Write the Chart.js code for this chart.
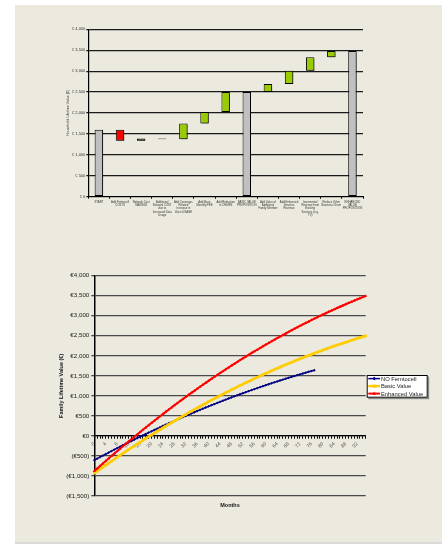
<!DOCTYPE html>
<html>
<head>
<meta charset="utf-8">
<script src="https://cdn.jsdelivr.net/npm/chart.js@4.4.1/dist/chart.umd.min.js"></script>
<style>
  html, body { margin: 0; padding: 0; background: #fff; }
  #page { position: relative; width: 442px; height: 544px; overflow: hidden; }
  #panel { position: absolute; left: 15px; top: 5px; width: 427px; height: 537px; background: #eceadf; }
  #strip { position: absolute; left: 15px; top: 542px; width: 427px; height: 2px; background: #dadada; }
  #waterfall { position: absolute; left: 0; top: 0; }
  #lifetime { position: absolute; left: 0; top: 240px; }
</style>
</head>
<body>
<div id="page">
  <div id="panel"></div>
  <div id="strip"></div>
  <canvas id="waterfall" width="442" height="240"></canvas>
  <canvas id="lifetime" width="442" height="304"></canvas>
</div>
<script>
const FONT = "'Liberation Sans', Arial, sans-serif";

// ---- waterfall: household value build-up ----
const stepLabels = [
  ["START"],
  ["Add Femtocell", "COSTS"],
  ["Network Cost", "SAVINGS"],
  ["Additional", "Network COST", "due to", "Increased Data", "Usage"],
  ["Add Coverage-", "Related", "Increase in", "Voice USAGE"],
  ["Add Basic", "Monthly FEE"],
  ["Add Reduction", "in CHURN"],
  ["BASIC VALUE", "PROPOSITION"],
  ["Add Value of", "Additional", "Family Member"],
  ["Add Enhanced", "Services", "Revenue"],
  ["Incremental", "Revenue from", "Existing", "Services (e.g.", "TV)"],
  ["Reduce Other", "Business Churn"],
  ["ENHANCED", "VALUE", "PROPOSITION"]
];
// null = subtotal bar drawn from zero
const stepValues = [1600, -265, 55, -20, 380, 275, 475, null, 190, 320, 320, 150, null];
const valueTicks = [0, 500, 1000, 1500, 2000, 2500, 3000, 3500, 4000];

// ---- lifetime value by month ----
const months = Array.from({ length: 96 }, (_, i) => String(i));
const noFemtocell = [
  -605, -567, -529, -491, -454, -416, -379, -342, -306, -270,
  -233, -198, -162, -127, -92, -57, -22, 12, 47, 81,
  114, 148, 181, 214, 247, 279, 311, 343, 375, 407,
  438, 469, 500, 531, 561, 591, 621, 650, 680, 709,
  738, 767, 795, 823, 851, 879, 906, 934, 961, 987,
  1014, 1040, 1066, 1092, 1118, 1143, 1168, 1193, 1218, 1242,
  1266, 1290, 1314, 1337, 1360, 1383, 1406, 1428, 1451, 1473,
  1494, 1516, 1537, 1558, 1579, 1600, 1620, 1640
];
const basicValue = [
  -930, -879, -829, -779, -729, -680, -631, -582, -534, -485,
  -438, -390, -343, -296, -249, -203, -157, -111, -66, -21,
  24, 68, 113, 156, 200, 243, 286, 329, 371, 413,
  455, 496, 537, 578, 618, 658, 698, 737, 777, 815,
  854, 892, 930, 968, 1005, 1042, 1079, 1115, 1151, 1187,
  1223, 1258, 1292, 1327, 1361, 1395, 1429, 1462, 1495, 1528,
  1560, 1592, 1624, 1655, 1686, 1717, 1748, 1778, 1808, 1837,
  1867, 1895, 1924, 1952, 1980, 2008, 2036, 2063, 2089, 2116,
  2142, 2168, 2193, 2219, 2244, 2268, 2292, 2316, 2340, 2363,
  2387, 2409, 2432, 2454, 2476, 2497
];
const enhancedValue = [
  -880, -816, -753, -690, -627, -565, -503, -442, -381, -320,
  -260, -200, -140, -81, -22, 36, 94, 152, 209, 266,
  323, 379, 435, 490, 545, 600, 654, 708, 762, 815,
  868, 920, 972, 1024, 1075, 1126, 1177, 1227, 1277, 1326,
  1375, 1424, 1472, 1520, 1568, 1615, 1662, 1708, 1754, 1800,
  1845, 1890, 1934, 1979, 2022, 2066, 2109, 2151, 2194, 2236,
  2277, 2318, 2359, 2400, 2440, 2479, 2518, 2557, 2596, 2634,
  2672, 2709, 2746, 2783, 2819, 2855, 2891, 2926, 2960, 2995,
  3029, 3062, 3096, 3129, 3161, 3193, 3225, 3256, 3287, 3318,
  3348, 3378, 3408, 3437, 3465, 3494
];

Chart.defaults.font.family = FONT;
Chart.defaults.animation = false;
Chart.defaults.plugins.tooltip.enabled = false;
Chart.defaults.plugins.legend.display = false;

// build floating [from, to] bars for the waterfall
let running = 0;
const floating = stepValues.map(v => {
  if (v === null) return [0, running];
  const from = running;
  running += v;
  return [from, running];
});
const barColors = stepValues.map((v, i) =>
  (v === null || i === 0) ? "#c0c0c0" : (v < 0 ? "#ff0000" : "#99cc00"));

const euro = n => n.toLocaleString("en-US");

// drop shadow behind the bars
const barShadow = {
  id: "barShadow",
  beforeDatasetsDraw(chart) {
    const ctx = chart.ctx;
    ctx.save();
    ctx.shadowColor = "rgba(0,0,0,0.4)";
    ctx.shadowOffsetX = 1.5;
    ctx.shadowOffsetY = 1.5;
    ctx.shadowBlur = 0.5;
  },
  afterDatasetsDraw(chart) {
    chart.ctx.restore();
  }
};

new Chart(document.getElementById("waterfall"), {
  type: "bar",
  data: {
    labels: stepLabels,
    datasets: [{
      data: floating,
      backgroundColor: barColors,
      borderColor: "#000",
      borderWidth: 1,
      borderSkipped: false,
      barPercentage: 0.4,
      categoryPercentage: 1
    }]
  },
  options: {
    responsive: false,
    layout: { padding: { left: 65.6, right: 79, top: 29.3, bottom: 0 } },
    scales: {
      x: {
        grid: { drawOnChartArea: false, drawTicks: true, tickLength: 2, color: "#000", offset: true },
        border: { color: "#000", width: 1 },
        ticks: {
          font: { size: 2.8, lineHeight: 1.2 }, color: "#333",
          maxRotation: 0, minRotation: 0, autoSkip: false, padding: 1.5
        },
        afterFit: s => { s.height = 43.3; }
      },
      y: {
        min: 0, max: 4000,
        afterBuildTicks: s => { s.ticks = valueTicks.map(v => ({ value: v })); },
        ticks: { callback: v => "€ " + euro(v), font: { size: 4 }, color: "#333", padding: 1 },
        grid: { color: "#1a1a1a", lineWidth: 1.3, tickLength: 2 },
        border: { color: "#000", width: 1.2 },
        title: { display: true, text: "Household Lifetime Value (€)", font: { size: 3.6 }, color: "#333", padding: 0 },
        afterFit: s => { s.width = 22.7; }
      }
    }
  },
  plugins: [barShadow]
});

// legend in a white framed box to the right of the plot
const boxedLegend = {
  id: "boxedLegend",
  afterDraw(chart) {
    const ctx = chart.ctx;
    const area = chart.chartArea;
    const w = 61, h = 22.7;
    const x = area.right + 1;
    const y = (area.top + area.bottom) / 2 - h / 2 + 0.5;
    ctx.save();
    ctx.fillStyle = "#8a8a8a";
    ctx.fillRect(x + 1.5, y + 1.5, w, h);
    ctx.fillStyle = "#fff";
    ctx.fillRect(x, y, w, h);
    ctx.strokeStyle = "#000";
    ctx.lineWidth = 1;
    ctx.strokeRect(x + 0.5, y + 0.5, w - 1, h - 1);
    chart.data.datasets.forEach((ds, i) => {
      const cy = y + 3.6 + i * 7.5;
      ctx.strokeStyle = ds.borderColor;
      ctx.lineWidth = ds.borderWidth;
      ctx.beginPath();
      ctx.moveTo(x + 1.6, cy);
      ctx.lineTo(x + 13.3, cy);
      ctx.stroke();
      ctx.fillStyle = ds.backgroundColor;
      Chart.helpers.drawPoint(ctx, {
        pointStyle: ds.pointStyle, radius: ds.pointRadius + 0.4, rotation: 0, borderWidth: 0
      }, x + 7.5, cy);
      ctx.fillStyle = "#222";
      ctx.font = "5.8px " + FONT;
      ctx.textBaseline = "middle";
      ctx.fillText(ds.label, x + 14.3, cy + 0.3);
    });
    ctx.restore();
  }
};

new Chart(document.getElementById("lifetime"), {
  type: "line",
  data: {
    labels: months,
    datasets: [
      {
        label: "NO Femtocell", data: noFemtocell,
        borderColor: "#000080", backgroundColor: "#000080", borderWidth: 1.5,
        pointStyle: "rectRot", pointRadius: 1.4, pointBorderWidth: 0, tension: 0, order: 3
      },
      {
        label: "Basic Value", data: basicValue,
        borderColor: "#ffcc00", backgroundColor: "#ffcc00", borderWidth: 2.5,
        pointStyle: "rect", pointRadius: 1.8, pointBorderWidth: 0, tension: 0, order: 2
      },
      {
        label: "Enhanced Value", data: enhancedValue,
        borderColor: "#ff0000", backgroundColor: "#ff0000", borderWidth: 2,
        pointStyle: "triangle", pointRadius: 1.8, pointBorderWidth: 0, tension: 0, order: 1
      }
    ]
  },
  options: {
    responsive: false,
    layout: { padding: { left: 58.1, right: 76.3, top: 35.7, bottom: 35.4 } },
    scales: {
      x: {
        position: { y: 0 },
        offset: false,
        grid: { drawOnChartArea: false, drawTicks: true, tickLength: 2.5, color: "#000", offset: false },
        border: { color: "#000", width: 1.2 },
        ticks: {
          autoSkip: false, maxRotation: 45, minRotation: 45, padding: 2.5,
          callback: (v, i) => (i % 4 === 0 ? months[i] : ""),
          font: { size: 5 }, color: "#555"
        }
      },
      monthsTitle: {
        type: "category", axis: "x", position: "bottom",
        grid: { display: false }, border: { display: false },
        ticks: { display: false },
        title: { display: true, text: "Months", font: { size: 5.5, weight: "bold" }, color: "#111", padding: 0 },
        afterFit: s => { s.height = 12.6; }
      },
      y: {
        min: -1500, max: 4000,
        ticks: {
          stepSize: 500,
          callback: v => (v < 0 ? "(€" + euro(-v) + ")" : "€" + euro(v)),
          font: { size: 6.2 }, color: "#222", padding: 2
        },
        grid: { color: "#4a4a4a", lineWidth: 1.3, tickLength: 3 },
        border: { color: "#000", width: 1.5 },
        title: { display: true, text: "Family Lifetime Value (€)", font: { size: 5.5, weight: "bold" }, color: "#111", padding: 0 },
        afterFit: s => { s.width = 36.2; }
      }
    }
  },
  plugins: [boxedLegend]
});
</script>
</body>
</html>
